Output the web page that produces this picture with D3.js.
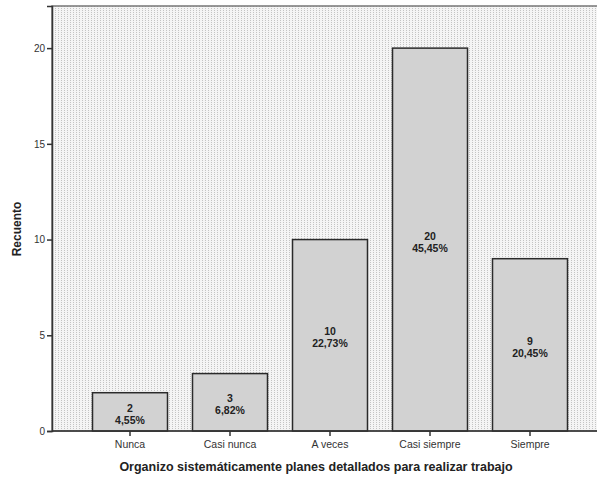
<!DOCTYPE html>
<html><head><meta charset="utf-8">
<script src="https://cdn.jsdelivr.net/npm/d3@7"></script>
<style>body{margin:0;background:#fff}svg{display:block}text{font-family:"Liberation Sans",Arial,sans-serif}</style>
</head><body><svg id="c" width="597" height="481"></svg>
<script>
const categories = ["Nunca","Casi nunca","A veces","Casi siempre","Siempre"];
const counts = [2,3,10,20,9];
const percents = ["4,55%","6,82%","22,73%","45,45%","20,45%"];
const yTicks = [0,5,10,15,20];
const xTitle = "Organizo sistemáticamente planes detallados para realizar trabajo";
const yTitle = "Recuento";

const svg = d3.select("#c");
const plot = {left:52, top:6, right:598, bottom:431};

const defs = svg.append("defs");
const pat = defs.append("pattern").attr("id","dots").attr("patternUnits","userSpaceOnUse")
  .attr("width",3).attr("height",2);
pat.append("rect").attr("width",3).attr("height",2).attr("fill","#f5f5f5");
pat.append("rect").attr("x",1).attr("y",0).attr("width",1).attr("height",1).attr("fill","#c4c4c4");

svg.append("rect").attr("x",plot.left).attr("y",plot.top)
  .attr("width",plot.right-plot.left).attr("height",plot.bottom-plot.top)
  .attr("fill","url(#dots)").attr("stroke","#777").attr("stroke-width",1.5);

const x = d3.scaleBand().domain(categories).range([80,580]).paddingInner(0.25).paddingOuter(0.125);
const y = d3.scaleLinear().domain([0,22.2]).range([plot.bottom, plot.top]);

svg.selectAll("rect.bar").data(counts).join("rect").attr("class","bar")
  .attr("x",(d,i)=>x(categories[i])).attr("width",x.bandwidth())
  .attr("y",d=>y(d)).attr("height",d=>plot.bottom-y(d))
  .attr("fill","#d2d2d2").attr("stroke","#2a2a2a").attr("stroke-width",1.5);

const lab = svg.selectAll("g.lab").data(counts).join("g").attr("class","lab")
  .attr("transform",(d,i)=>`translate(${x(categories[i])+x.bandwidth()/2},${(y(d)+plot.bottom)/2})`);
lab.append("text").attr("text-anchor","middle").attr("y",0).attr("font-size",10.5).attr("font-weight","bold").attr("fill","#222").text(d=>d);
lab.append("text").attr("text-anchor","middle").attr("y",12).attr("font-size",10.5).attr("font-weight","bold").attr("fill","#222").text((d,i)=>percents[i]);

// y axis
const ya = svg.append("g").attr("transform",`translate(${plot.left},0)`)
  .call(d3.axisLeft(y).tickValues(yTicks).tickSize(5).tickPadding(2));
ya.select(".domain").attr("stroke","#333").attr("stroke-width",1.5);
ya.selectAll(".tick line").attr("stroke","#333").attr("stroke-width",1.5);
ya.selectAll(".tick text").attr("font-size",10).attr("fill","#333").attr("font-family","Liberation Sans, Arial, sans-serif");

// x axis
const xa = svg.append("g").attr("transform",`translate(0,${plot.bottom})`)
  .call(d3.axisBottom(x).tickSize(5).tickPadding(5));
xa.select(".domain").remove();
svg.append("line").attr("x1",plot.left).attr("x2",plot.right).attr("y1",plot.bottom).attr("y2",plot.bottom)
  .attr("stroke","#333").attr("stroke-width",1.5);
xa.selectAll(".tick line").attr("stroke","#333").attr("stroke-width",1.5);
xa.selectAll(".tick text").attr("font-size",10.5).attr("fill","#333").attr("font-family","Liberation Sans, Arial, sans-serif");

svg.append("text").attr("x",316).attr("y",471).attr("text-anchor","middle")
  .attr("font-size",12.5).attr("font-weight","bold").attr("fill","#222").text(xTitle);
svg.append("text").attr("transform","translate(21,229) rotate(-90)").attr("text-anchor","middle")
  .attr("font-size",12).attr("font-weight","bold").attr("fill","#222").text(yTitle);
</script></body></html>
